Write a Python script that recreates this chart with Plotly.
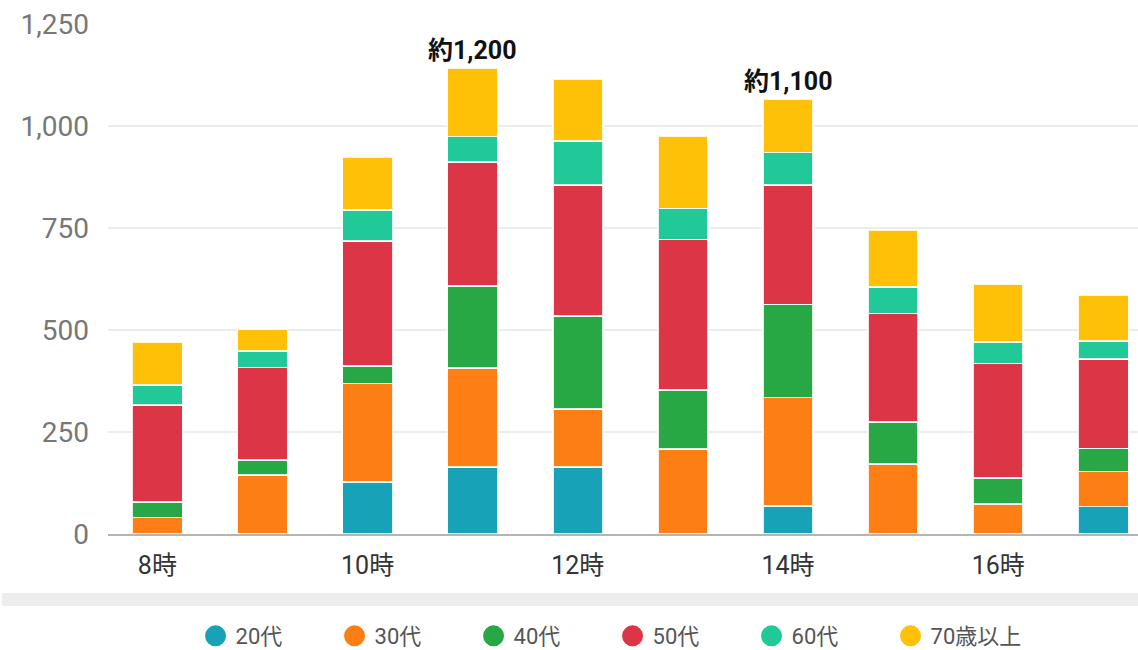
import plotly.graph_objects as go

hours = ["8時", "9時", "10時", "11時", "12時", "13時", "14時", "15時", "16時", "17時"]
tick_hours = ["8時", "10時", "12時", "14時", "16時"]

series_names = ["20代", "30代", "40代", "50代", "60代", "70歳以上"]
age20 = [0, 0, 127, 164, 164, 0, 69, 0, 0, 67]
age30 = [41, 145, 242, 243, 142, 208, 265, 171, 74, 86]
age40 = [38, 36, 43, 201, 228, 145, 229, 103, 63, 57]
age50 = [237, 227, 306, 304, 321, 369, 292, 267, 281, 219]
age60 = [49, 41, 76, 62, 108, 76, 80, 65, 53, 44]
age70 = [105, 52, 130, 167, 151, 177, 130, 139, 142, 113]
series_values = [age20, age30, age40, age50, age60, age70]
colors = ["#17a2b8", "#fd7e14", "#28a745", "#dc3545", "#20c997", "#ffc107"]

note_hours = ["11時", "14時"]
note_texts = ["約1,200", "約1,100"]

y_ticks = [0, 250, 500, 750, 1000, 1250]

FONT = "Roboto, 'Noto Sans CJK JP', sans-serif"

fig = go.Figure()
for name, vals, col in zip(series_names, series_values, colors):
    fig.add_trace(go.Bar(
        x=hours, y=vals, name=name, marker_color=col,
        marker_line_color="rgba(255,255,255,0.85)", marker_line_width=1.5,
        showlegend=False,
    ))
for name, col in zip(series_names, colors):
    fig.add_trace(go.Scatter(
        x=[None], y=[None], mode="markers", name=name,
        marker=dict(symbol="circle", size=22, color=col,
                    line=dict(color=col, width=5)),
    ))

totals = [sum(v[i] for v in series_values) for i in range(len(hours))]
for h, t in zip(note_hours, note_texts):
    idx = hours.index(h)
    fig.add_annotation(
        x=h, y=totals[idx], text=t, showarrow=False,
        yanchor="bottom", yshift=1,
        font=dict(family=FONT, size=25, color="#111111", weight="bold"),
    )

fig.add_shape(type="rect", xref="paper", yref="paper",
              x0=-0.103, x1=1.0, y0=-0.1157, y1=-0.141,
              fillcolor="#ededed", line_width=0, layer="below")

fig.update_layout(
    width=1138, height=650,
    margin=dict(l=108, r=0, t=24, b=116, autoexpand=False),
    paper_bgcolor="white", plot_bgcolor="white",
    barmode="stack", bargap=0.525,
    font=dict(family=FONT),
    xaxis=dict(
        type="category", range=[-0.47, 9.33], automargin=False,
        tickmode="array", tickvals=tick_hours, ticktext=tick_hours,
        tickfont=dict(size=25, color="#333333"),
        showgrid=False, showline=True, linecolor="#b5b5b5", linewidth=2,
        ticks="", ticklabelstandoff=8,
    ),
    yaxis=dict(
        range=[0, 1250], tickvals=y_ticks, tickformat=",", automargin=False,
        tickfont=dict(size=28, color="#777777"),
        showgrid=True, gridcolor="#ececec", gridwidth=2,
        zeroline=False, showline=False, ticks="", ticklabelstandoff=18,
    ),
    legend=dict(
        orientation="h", x=0.085, xanchor="left", y=-0.200, yanchor="middle",
        font=dict(size=22, color="#555555"),
        entrywidth=94, entrywidthmode="pixels",
        itemsizing="trace", traceorder="normal",
    ),
)

fig.write_html("out.html", config={"displayModeBar": False},
               post_script="document.body.style.margin='0px';")
